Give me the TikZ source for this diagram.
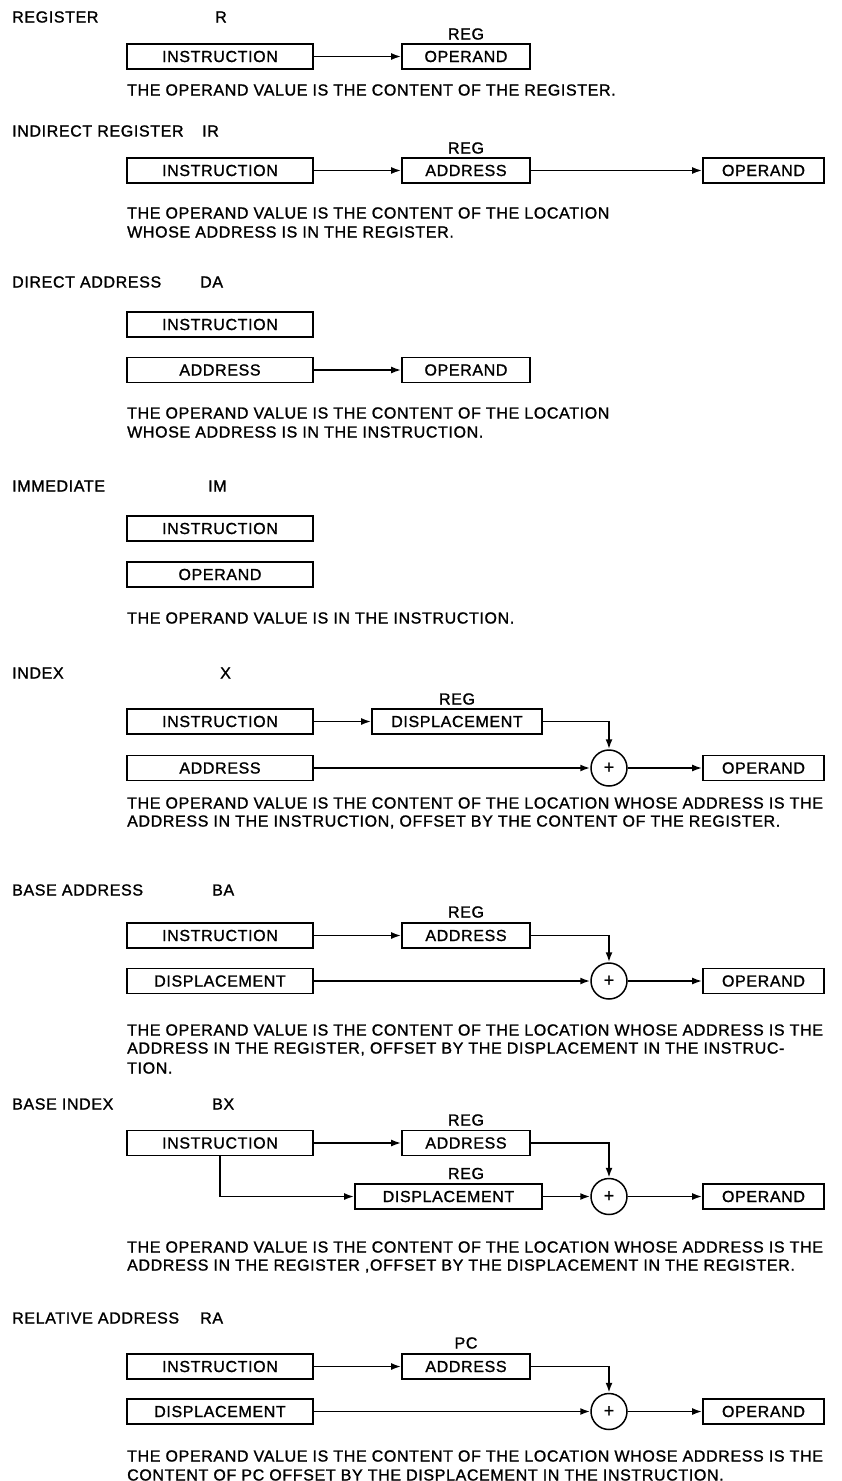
\documentclass[tikz,border=0pt]{standalone}
\usepackage{fontspec}
\setmainfont[LetterSpace=4,FakeBold=1.3]{Liberation Sans}
\usetikzlibrary{arrows.meta}
\begin{document}
\begin{tikzpicture}[x=1pt,y=-1pt,
  every node/.style={font=\fontsize{16}{19}\selectfont, inner sep=0pt},
  box/.style={draw, line width=1.7pt, minimum height=25pt, align=center},
  lbox/.style={box, minimum width=186pt},
  mbox/.style={box, minimum width=128pt},
  rbox/.style={box, minimum width=121pt},
  sumnode/.style={draw, circle, line width=1.5pt, minimum size=36pt, font=\fontsize{18}{20}\selectfont},
  ttl/.style={anchor=west},
  desc/.style={anchor=west},
  lbl/.style={},
  arr/.style={line width=1.8pt, -{Latex[length=10pt,width=7pt]}}]
\useasboundingbox (0,0) rectangle (841,1481);

% ---------- REGISTER ----------
\node[ttl] (t1) at (12,17) {REGISTER};
\node[ttl] (s1) at (215,17) {R};
\node[lbox] (i1) at (220,56.5) {INSTRUCTION};
\node[mbox] (o1) at (466,56.5) {OPERAND};
\node[lbl] (r1) at (466,34) {REG};
\draw[arr] (i1.east) -- (o1.west);
\node[desc] (d1) at (127,90) {THE OPERAND VALUE IS THE CONTENT OF THE REGISTER.};

% ---------- INDIRECT REGISTER ----------
\node[ttl] (t2) at (12,131) {INDIRECT REGISTER};
\node[ttl] (s2) at (202,131) {IR};
\node[lbox] (i2) at (220,170.5) {INSTRUCTION};
\node[mbox] (a2) at (466,170.5) {ADDRESS};
\node[lbl] (r2) at (466,148) {REG};
\node[rbox] (o2) at (763.5,170.5) {OPERAND};
\draw[arr] (i2.east) -- (a2.west);
\draw[arr] (a2.east) -- (o2.west);
\node[desc] (d2a) at (127,213) {THE OPERAND VALUE IS THE CONTENT OF THE LOCATION};
\node[desc] (d2b) at (127,232) {WHOSE ADDRESS IS IN THE REGISTER.};

% ---------- DIRECT ADDRESS ----------
\node[ttl] (t3) at (12,282) {DIRECT ADDRESS};
\node[ttl] (s3) at (200,282) {DA};
\node[lbox] (i3) at (220,324.5) {INSTRUCTION};
\node[lbox] (a3) at (220,370) {ADDRESS};
\node[mbox] (o3) at (466,370) {OPERAND};
\draw[arr] (a3.east) -- (o3.west);
\node[desc] (d3a) at (127,413) {THE OPERAND VALUE IS THE CONTENT OF THE LOCATION};
\node[desc] (d3b) at (127,432) {WHOSE ADDRESS IS IN THE INSTRUCTION.};

% ---------- IMMEDIATE ----------
\node[ttl] (t4) at (12,486) {IMMEDIATE};
\node[ttl] (s4) at (208,486) {IM};
\node[lbox] (i4) at (220,528.5) {INSTRUCTION};
\node[lbox] (o4) at (220,574.5) {OPERAND};
\node[desc] (d4) at (127,618) {THE OPERAND VALUE IS IN THE INSTRUCTION.};

% ---------- INDEX ----------
\node[ttl] (t5) at (12,673) {INDEX};
\node[ttl] (s5) at (220,673) {X};
\node[lbox] (i5) at (220,721.5) {INSTRUCTION};
\node[box, minimum width=170pt] (x5) at (457,721.5) {DISPLACEMENT};
\node[lbl] (r5) at (457,699) {REG};
\node[lbox] (a5) at (220,768) {ADDRESS};
\node[sumnode] (p5) at (609,768) {+};
\node[rbox] (o5) at (763.5,768) {OPERAND};
\draw[arr] (i5.east) -- (x5.west);
\draw[arr] (x5.east) -| (p5.north);
\draw[arr] (a5.east) -- (p5.west);
\draw[arr] (p5.east) -- (o5.west);
\node[desc] (d5a) at (127,803) {THE OPERAND VALUE IS THE CONTENT OF THE LOCATION WHOSE ADDRESS IS THE};
\node[desc] (d5b) at (127,822) {ADDRESS IN THE INSTRUCTION, OFFSET BY THE CONTENT OF THE REGISTER.};

% ---------- BASE ADDRESS ----------
\node[ttl] (t6) at (12,890) {BASE ADDRESS};
\node[ttl] (s6) at (212,890) {BA};
\node[lbox] (i6) at (220,935.5) {INSTRUCTION};
\node[mbox] (a6) at (466,935.5) {ADDRESS};
\node[lbl] (r6) at (466,912) {REG};
\node[lbox] (x6) at (220,981) {DISPLACEMENT};
\node[sumnode] (p6) at (609,981) {+};
\node[rbox] (o6) at (763.5,981) {OPERAND};
\draw[arr] (i6.east) -- (a6.west);
\draw[arr] (a6.east) -| (p6.north);
\draw[arr] (x6.east) -- (p6.west);
\draw[arr] (p6.east) -- (o6.west);
\node[desc] (d6a) at (127,1030) {THE OPERAND VALUE IS THE CONTENT OF THE LOCATION WHOSE ADDRESS IS THE};
\node[desc] (d6b) at (127,1049) {ADDRESS IN THE REGISTER, OFFSET BY THE DISPLACEMENT IN THE INSTRUC-};
\node[desc] (d6c) at (127,1068) {TION.};

% ---------- BASE INDEX ----------
\node[ttl] (t7) at (12,1104) {BASE INDEX};
\node[ttl] (s7) at (212,1104) {BX};
\node[lbox] (i7) at (220,1143) {INSTRUCTION};
\node[mbox] (a7) at (466,1143) {ADDRESS};
\node[lbl] (r7) at (466,1120) {REG};
\node[box, minimum width=187pt] (x7) at (448.5,1196.5) {DISPLACEMENT};
\node[lbl] (r7b) at (466,1173.5) {REG};
\node[sumnode] (p7) at (609,1196.5) {+};
\node[rbox] (o7) at (763.5,1196.5) {OPERAND};
\draw[arr] (i7.east) -- (a7.west);
\draw[arr] (i7.south) |- (x7.west);
\draw[arr] (a7.east) -| (p7.north);
\draw[arr] (x7.east) -- (p7.west);
\draw[arr] (p7.east) -- (o7.west);
\node[desc] (d7a) at (127,1247) {THE OPERAND VALUE IS THE CONTENT OF THE LOCATION WHOSE ADDRESS IS THE};
\node[desc] (d7b) at (127,1266) {ADDRESS IN THE REGISTER ,OFFSET BY THE DISPLACEMENT IN THE REGISTER.};

% ---------- RELATIVE ADDRESS ----------
\node[ttl] (t8) at (12,1318) {RELATIVE ADDRESS};
\node[ttl] (s8) at (200,1318) {RA};
\node[lbox] (i8) at (220,1366.5) {INSTRUCTION};
\node[mbox] (a8) at (466,1366.5) {ADDRESS};
\node[lbl] (r8) at (466,1343) {PC};
\node[lbox] (x8) at (220,1411.5) {DISPLACEMENT};
\node[sumnode] (p8) at (609,1411.5) {+};
\node[rbox] (o8) at (763.5,1411.5) {OPERAND};
\draw[arr] (i8.east) -- (a8.west);
\draw[arr] (a8.east) -| (p8.north);
\draw[arr] (x8.east) -- (p8.west);
\draw[arr] (p8.east) -- (o8.west);
\node[desc] (d8a) at (127,1456) {THE OPERAND VALUE IS THE CONTENT OF THE LOCATION WHOSE ADDRESS IS THE};
\node[desc] (d8b) at (127,1475) {CONTENT OF PC OFFSET BY THE DISPLACEMENT IN THE INSTRUCTION.};
\end{tikzpicture}
\end{document}
